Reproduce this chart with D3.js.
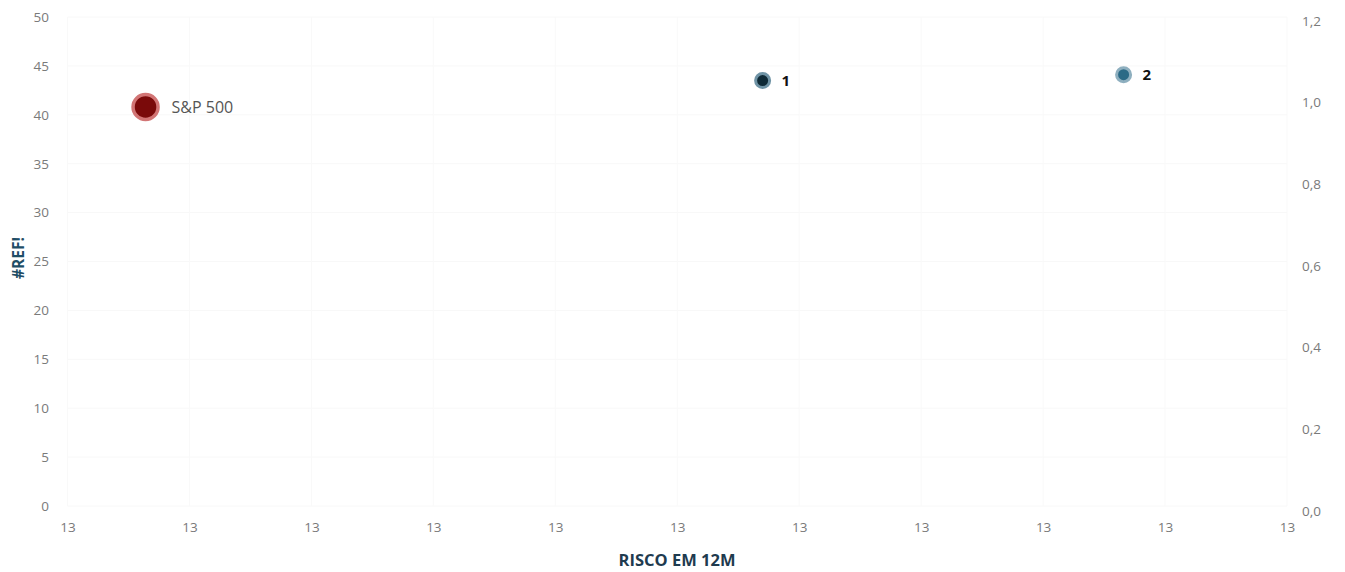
<!DOCTYPE html>
<html>
<head>
<meta charset="utf-8">
<script src="https://cdn.jsdelivr.net/npm/d3@7"></script>
<style>
  html, body { margin: 0; padding: 0; background: #ffffff; }
  svg { display: block; }
  text { font-family: "Open Sans", "Liberation Sans", sans-serif; }
</style>
</head>
<body>
<svg id="chart" width="1345" height="572"></svg>
<script>
// ---- data ----
const names = ["S&P 500", "1", "2"];
const riskValues = [12.782, 13.035, 13.183];      // RISCO EM 12M
const retValues = [40.8, 43.5, 44.1];              // #REF!
const xTickValues = [12.75, 12.8, 12.85, 12.9, 12.95, 13.0, 13.05, 13.1, 13.15, 13.2, 13.25];
const yTickValues = [0, 5, 10, 15, 20, 25, 30, 35, 40, 45, 50];
const y2TickValues = [0, 0.2, 0.4, 0.6, 0.8, 1.0, 1.2];

const svg = d3.select("#chart");

const x = d3.scaleLinear().domain([12.75, 13.25]).range([67.5, 1287]);
const y = d3.scaleLinear().domain([0, 50]).range([506, 17]);
const y2 = d3.scaleLinear().domain([0, 1.2]).range([511, 21]);

// very faint gridlines
const grid = svg.append("g");
grid.selectAll("line.h").data(yTickValues).join("line")
  .attr("x1", x(12.75)).attr("x2", x(13.25))
  .attr("y1", d => y(d)).attr("y2", d => y(d))
  .attr("stroke", "#f8f8f8").attr("stroke-width", 1);
grid.selectAll("line.v").data(xTickValues).join("line")
  .attr("x1", d => x(d)).attr("x2", d => x(d))
  .attr("y1", y(50)).attr("y2", y(0))
  .attr("stroke", "#f9f9f9").attr("stroke-width", 1);

const tickColor = "#7a7a7a";
const tickSize = 13.5;

// left axis
const yAxis = d3.axisLeft(y).tickValues(yTickValues).tickSize(0).tickPadding(0).tickFormat(d3.format("d"));
const gy = svg.append("g").attr("transform", "translate(49,0)").call(yAxis);
gy.select(".domain").remove();
gy.selectAll("text").attr("fill", tickColor).attr("font-size", tickSize);

// right axis
const fmtComma = v => d3.format(".1f")(v).replace(".", ",");
const y2Axis = d3.axisRight(y2).tickValues(y2TickValues).tickSize(0).tickPadding(0).tickFormat(fmtComma);
const gy2 = svg.append("g").attr("transform", "translate(1302,0)").call(y2Axis);
gy2.select(".domain").remove();
gy2.selectAll("text").attr("fill", tickColor).attr("font-size", tickSize);

// bottom axis
const xAxis = d3.axisBottom(x).tickValues(xTickValues).tickSize(0).tickPadding(0).tickFormat(d3.format(".0f"));
const gx = svg.append("g").attr("transform", "translate(0,522)").call(xAxis);
gx.select(".domain").remove();
gx.selectAll("text").attr("fill", tickColor).attr("font-size", tickSize);

// axis titles
svg.append("text")
  .attr("x", 677).attr("y", 566)
  .attr("text-anchor", "middle")
  .attr("font-size", 16.5).attr("font-weight", "bold")
  .attr("fill", "#1f3b4f")
  .text("RISCO EM 12M");

svg.append("text")
  .attr("transform", "translate(24,258) rotate(-90)")
  .attr("text-anchor", "middle")
  .attr("font-size", 15.5).attr("font-weight", "bold")
  .attr("fill", "#1f4e66")
  .text("#REF!");

// points
const data = names.map((n, i) => ({ name: n, x: riskValues[i], y: retValues[i] }));
const styles = {
  "S&P 500": { r: 12.5, fill: "#7a0a0a", stroke: "#d27575", sw: 3.5, labelColor: "#555555", weight: "normal", dx: 26, fs: 16 },
  "1": { r: 7, fill: "#0f2a36", stroke: "#6f93a5", sw: 3, labelColor: "#111111", weight: "bold", dx: 19, fs: 15 },
  "2": { r: 7, fill: "#2b6a86", stroke: "#8eafbf", sw: 3, labelColor: "#111111", weight: "bold", dx: 19, fs: 15 }
};

const pts = svg.append("g");
pts.selectAll("circle").data(data).join("circle")
  .attr("cx", d => x(d.x)).attr("cy", d => y(d.y))
  .attr("r", d => styles[d.name].r)
  .attr("fill", d => styles[d.name].fill)
  .attr("stroke", d => styles[d.name].stroke)
  .attr("stroke-width", d => styles[d.name].sw);

pts.selectAll("text").data(data).join("text")
  .attr("x", d => x(d.x) + styles[d.name].dx)
  .attr("y", d => y(d.y))
  .attr("dy", "0.35em")
  .attr("font-size", d => styles[d.name].fs)
  .attr("font-weight", d => styles[d.name].weight)
  .attr("fill", d => styles[d.name].labelColor)
  .text(d => d.name);
</script>
</body>
</html>
